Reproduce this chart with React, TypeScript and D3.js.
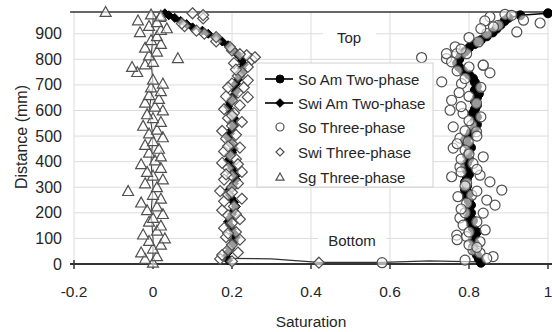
import React from "react";
import * as d3 from "d3";

// ---------- data ----------
const xTicks = [-0.2, 0, 0.2, 0.4, 0.6, 0.8, 1];
const yTicks = [0, 100, 200, 300, 400, 500, 600, 700, 800, 900];

// [saturation, distance mm]
const soAmTwoPhase: [number, number][] = [
  [0.83, 5], [0.825, 20], [0.82, 35], [0.815, 50], [0.81, 65], [0.815, 80], [0.81, 95],
  [0.815, 110], [0.82, 125], [0.81, 140], [0.805, 155], [0.81, 170], [0.8, 185], [0.805, 200],
  [0.8, 215], [0.805, 230], [0.8, 245], [0.795, 260], [0.8, 275], [0.79, 290], [0.795, 305],
  [0.79, 320], [0.795, 335], [0.8, 350], [0.795, 365], [0.79, 380], [0.795, 395], [0.8, 410],
  [0.795, 425], [0.8, 440], [0.805, 455], [0.795, 470], [0.79, 485], [0.8, 500], [0.805, 515],
  [0.815, 530], [0.82, 545], [0.815, 560], [0.82, 575], [0.81, 590], [0.815, 605], [0.82, 620],
  [0.815, 635], [0.82, 650], [0.825, 665], [0.815, 680], [0.82, 695], [0.815, 710], [0.81, 725],
  [0.8, 740], [0.785, 755], [0.775, 770], [0.77, 785], [0.775, 800], [0.78, 815], [0.79, 830],
  [0.8, 845], [0.815, 860], [0.83, 875], [0.845, 890], [0.86, 905], [0.87, 920], [0.88, 935],
  [0.89, 950], [0.9, 962], [0.93, 972], [1.0, 980],
];

const swiAmTwoPhase: [number, number][] = [
  [0.19, 15], [0.185, 30], [0.19, 45], [0.195, 60], [0.2, 75], [0.205, 90], [0.21, 105],
  [0.205, 120], [0.2, 135], [0.195, 150], [0.19, 165], [0.195, 180], [0.2, 195], [0.205, 210],
  [0.21, 225], [0.205, 240], [0.2, 255], [0.195, 270], [0.19, 285], [0.2, 300], [0.205, 315],
  [0.21, 330], [0.21, 345], [0.205, 360], [0.2, 375], [0.195, 390], [0.19, 405], [0.195, 420],
  [0.2, 435], [0.205, 450], [0.2, 465], [0.195, 480], [0.19, 495], [0.195, 510], [0.2, 525],
  [0.205, 540], [0.2, 555], [0.205, 570], [0.2, 585], [0.195, 600], [0.19, 615], [0.195, 630],
  [0.2, 645], [0.205, 660], [0.21, 675], [0.205, 690], [0.21, 705], [0.215, 720], [0.22, 735],
  [0.225, 750], [0.225, 765], [0.23, 780], [0.225, 795], [0.22, 810], [0.21, 825], [0.2, 840],
  [0.19, 855], [0.175, 870], [0.16, 885], [0.14, 900], [0.125, 912], [0.1, 925], [0.085, 938],
  [0.07, 950], [0.055, 962], [0.04, 972], [0.03, 980],
];

const bottomLine: [number, number][] = [
  [0.18, 22], [0.3, 20], [0.42, 6], [0.58, 6], [0.7, 12], [0.82, 8],
];

const sgTrace: [number, number][] = [
  [0, 0], [0, 100], [-0.005, 200], [0, 300], [-0.005, 400], [0, 500], [-0.01, 600],
  [0, 700], [-0.005, 800], [0, 900], [0, 985],
];

const topLine: [number, number][] = [[-0.21, 985], [1.01, 985]];

const soThreePhase: [number, number][] = [
  [0.743, 803], [0.836, 777], [0.853, 747], [0.731, 712], [0.781, 705], [0.756, 640],
  [0.819, 628], [0.752, 601], [0.785, 589], [0.76, 536], [0.807, 543], [0.819, 517],
  [0.777, 492], [0.798, 478], [0.76, 453], [0.79, 445], [0.836, 419], [0.81, 393],
  [0.777, 380], [0.756, 341], [0.828, 347], [0.853, 321], [0.794, 316], [0.883, 289],
  [0.772, 263], [0.807, 269], [0.845, 250], [0.866, 230], [0.794, 238], [0.836, 199],
  [0.777, 180], [0.785, 152], [0.841, 133], [0.769, 113], [0.794, 107], [0.828, 87],
  [0.81, 55], [0.828, 43], [0.861, 29], [0.845, 22], [0.68, 807], [0.743, 822],
  [0.765, 849], [0.769, 822], [0.756, 790], [0.794, 822], [0.824, 868], [0.845, 901],
  [0.836, 777], [0.853, 966], [0.891, 976], [0.874, 933], [0.921, 907], [0.908, 972],
  [0.938, 953], [0.98, 942], [0.862, 927], [0.775, 670], [0.8, 560], [0.78, 410],
  [0.79, 200], [0.8, 75], [0.79, 15], [0.82, 65], [0.77, 95], [0.8, 125], [0.82, 165],
  [0.78, 215], [0.82, 285], [0.79, 305], [0.78, 360], [0.82, 370], [0.8, 430], [0.77, 470],
  [0.82, 500], [0.79, 520], [0.83, 575], [0.78, 615], [0.8, 655], [0.83, 690], [0.79, 725],
  [0.77, 755], [0.8, 770], [0.78, 840], [0.8, 885], [0.84, 950], [0.83, 920], [0.58, 5],
];

const swiThreePhase: [number, number][] = [
  [0.17, 20], [0.175, 35], [0.19, 55], [0.2, 75], [0.22, 95], [0.185, 105], [0.21, 125],
  [0.18, 140], [0.2, 160], [0.22, 175], [0.19, 190], [0.175, 210], [0.205, 225], [0.18, 245],
  [0.225, 255], [0.19, 270], [0.17, 285], [0.2, 300], [0.215, 315], [0.18, 330], [0.2, 345],
  [0.225, 360], [0.19, 375], [0.175, 395], [0.21, 410], [0.195, 425], [0.18, 440], [0.22, 455],
  [0.2, 470], [0.185, 490], [0.21, 505], [0.175, 520], [0.2, 540], [0.225, 555], [0.19, 570],
  [0.205, 590], [0.18, 605], [0.22, 620], [0.2, 640], [0.24, 652], [0.185, 655], [0.215, 670],
  [0.23, 690], [0.2, 705], [0.24, 718], [0.215, 735], [0.225, 750], [0.24, 770], [0.205, 785],
  [0.25, 800], [0.258, 808], [0.237, 816], [0.2, 835], [0.195, 848], [0.16, 870], [0.16, 887],
  [0.13, 900], [0.11, 912], [0.08, 930], [0.073, 940], [0.127, 960], [0.127, 973], [0.1, 980],
  [0.2, 10], [0.215, 45], [0.19, 120], [0.21, 195], [0.2, 280], [0.185, 350], [0.215, 390],
  [0.19, 460], [0.2, 580], [0.19, 690], [0.21, 760], [0.22, 820], [0.42, 5],
];

const sgThreePhase: [number, number][] = [
  [0.0, 5], [-0.02, 20], [0.01, 30], [-0.03, 45], [0.0, 60], [0.02, 75], [-0.01, 90],
  [0.03, 100], [-0.025, 115], [0.01, 130], [0.02, 150], [-0.01, 165], [0.0, 180], [0.025, 195],
  [-0.015, 210], [0.01, 225], [-0.03, 240], [0.02, 255], [0.0, 270], [-0.063, 285], [0.01, 300],
  [-0.02, 315], [0.025, 330], [0.0, 345], [-0.015, 360], [0.02, 375], [-0.03, 390], [0.005, 405],
  [0.02, 420], [-0.01, 435], [0.015, 450], [-0.02, 465], [0.0, 480], [0.025, 495], [-0.01, 510],
  [0.01, 525], [-0.025, 540], [0.02, 555], [0.0, 570], [-0.015, 585], [0.025, 600], [0.005, 615],
  [-0.02, 630], [0.015, 645], [-0.01, 660], [0.02, 675], [-0.005, 690], [0.025, 705], [0.0, 720],
  [-0.04, 750], [-0.053, 770], [-0.02, 780], [0.0, 790], [0.063, 804], [-0.01, 815], [0.01, 830],
  [-0.02, 845], [0.02, 860], [-0.005, 875], [0.01, 890], [-0.033, 906], [0.02, 915], [-0.01, 930],
  [0.035, 921], [0.018, 965], [-0.038, 952], [0.01, 945], [-0.005, 975], [0.02, 970], [-0.12, 985],
];

const legendLabels = [
  "So Am Two-phase",
  "Swi Am Two-phase",
  "So Three-phase",
  "Swi Three-phase",
  "Sg Three-phase",
];

// ---------- layout ----------
const W = 552;
const H = 332;
const FONT = "'Liberation Sans', Arial, sans-serif";
const TXT = "#262626";

const x = d3.scaleLinear().domain([-0.2, 1]).range([74, 548]);
const y = d3.scaleLinear().domain([0, 985]).range([264, 12]);

const line = d3
  .line<[number, number]>()
  .x((d) => x(d[0]))
  .y((d) => y(d[1]));

type Shape = "circle" | "diamond" | "triangle";

function Marker({ shape, cx, cy, filled, size }: { shape: Shape; cx: number; cy: number; filled: boolean; size: number }) {
  const fill = filled ? "#000" : "#fff";
  const fo = filled ? 1 : 0.6;
  const stroke = filled ? "#000" : "#505050";
  const sw = filled ? 1 : 1.2;
  if (shape === "circle") {
    return <circle cx={cx} cy={cy} r={size} fill={fill} fillOpacity={fo} stroke={stroke} strokeWidth={sw} />;
  }
  if (shape === "diamond") {
    const s = size;
    return (
      <path
        d={`M${cx},${cy - s}L${cx + s},${cy}L${cx},${cy + s}L${cx - s},${cy}Z`}
        fill={fill}
        fillOpacity={fo}
        stroke={stroke}
        strokeWidth={sw}
      />
    );
  }
  const s = size;
  return (
    <path
      d={`M${cx},${cy - s}L${cx + s},${cy + s * 0.8}L${cx - s},${cy + s * 0.8}Z`}
      fill={fill}
      fillOpacity={fo}
      stroke={stroke}
      strokeWidth={sw}
    />
  );
}

export default function App() {
  const grid = "#dcdcdc";
  const legendX = 257;
  const legendY = 63;
  const legendRows = [79, 103, 127, 152, 177];
  return (
    <svg
      width={W}
      height={H}
      style={{ position: "absolute", left: 0, top: 0, background: "#fff" }}
      fontFamily={FONT}
    >
      <rect x={0} y={0} width={W} height={H} fill="#fff" />
      {/* gridlines */}
      {yTicks.filter((t) => t > 0).map((t) => (
        <line key={"gy" + t} x1={x(-0.2)} x2={x(1)} y1={y(t)} y2={y(t)} stroke={grid} strokeWidth={1} />
      ))}
      {xTicks.map((t) => (
        <line key={"gx" + t} x1={x(t)} x2={x(t)} y1={y(985)} y2={y(0)} stroke={grid} strokeWidth={1} />
      ))}

      {/* Top / Bottom labels */}
      <rect x={323} y={27} width={53} height={20} fill="#fff" />
      <text x={349} y={43} textAnchor="middle" fontSize={15} fill={TXT}>Top</text>
      <rect x={318} y={229} width={68} height={20} fill="#fff" />
      <text x={352} y={246} textAnchor="middle" fontSize={15} fill={TXT}>Bottom</text>

      {/* x axis */}
      <line x1={70} x2={552} y1={y(0)} y2={y(0)} stroke="#333" strokeWidth={2} />
      {xTicks.map((t) => (
        <line key={"tx" + t} x1={x(t)} x2={x(t)} y1={y(0) - (t === -0.2 ? 4 : 0)} y2={y(0) + 5} stroke="#333" strokeWidth={1.5} />
      ))}
      {xTicks.map((t) => (
        <text key={"lx" + t} x={x(t)} y={297} textAnchor="middle" fontSize={15.5} fill={TXT}>
          {String(t)}
        </text>
      ))}
      {yTicks.map((t) => (
        <text key={"ly" + t} x={62} y={y(t) + 5.5} textAnchor="end" fontSize={16} fill={TXT}>
          {t}
        </text>
      ))}
      <text
        transform={`translate(27,137) rotate(-90)`}
        textAnchor="middle"
        fontSize={16}
        fill={TXT}
      >
        Distance (mm)
      </text>
      <text x={311} y={327} textAnchor="middle" fontSize={15.5} fill={TXT}>Saturation</text>

      {/* top boundary line */}
      <path d={line(topLine) || ""} fill="none" stroke="#333" strokeWidth={1.6} />
      {/* thin traces */}
      <path d={line(sgTrace) || ""} fill="none" stroke="#333" strokeWidth={1} />
      <path d={line(bottomLine) || ""} fill="none" stroke="#333" strokeWidth={1.2} />

      {/* two-phase series */}
      <path d={line(soAmTwoPhase) || ""} fill="none" stroke="#000" strokeWidth={1.6} />
      {soAmTwoPhase.map((d, i) => (
        <Marker key={"sa" + i} shape="circle" cx={x(d[0])} cy={y(d[1])} filled size={4.5} />
      ))}
      <path d={line(swiAmTwoPhase) || ""} fill="none" stroke="#000" strokeWidth={1.4} />
      {swiAmTwoPhase.map((d, i) => (
        <Marker key={"wa" + i} shape="diamond" cx={x(d[0])} cy={y(d[1])} filled size={4.5} />
      ))}

      {/* three-phase series */}
      {soThreePhase.map((d, i) => (
        <Marker key={"s3" + i} shape="circle" cx={x(d[0])} cy={y(d[1])} filled={false} size={5} />
      ))}
      {swiThreePhase.map((d, i) => (
        <Marker key={"w3" + i} shape="diamond" cx={x(d[0])} cy={y(d[1])} filled={false} size={5.5} />
      ))}
      {sgThreePhase.map((d, i) => (
        <Marker key={"g3" + i} shape="triangle" cx={x(d[0])} cy={y(d[1])} filled={false} size={5.5} />
      ))}

      {/* legend */}
      <rect x={legendX} y={legendY} width={176} height={124} fill="#fff" stroke="#d0d0d0" strokeWidth={1} />
      {legendLabels.map((lab, i) => {
        const cy = legendRows[i];
        const shape: Shape = i === 0 || i === 2 ? "circle" : i === 1 || i === 3 ? "diamond" : "triangle";
        const filled = i < 2;
        return (
          <g key={lab}>
            {filled && <line x1={265} x2={293} y1={cy} y2={cy} stroke="#000" strokeWidth={1.6} />}
            <Marker
              shape={shape}
              cx={280}
              cy={cy}
              filled={filled}
              size={filled ? (shape === "circle" ? 4 : 4.3) : 4}
            />
            <text x={298} y={cy + 5.5} fontSize={15} fill={TXT}>{lab}</text>
          </g>
        );
      })}
    </svg>
  );
}
